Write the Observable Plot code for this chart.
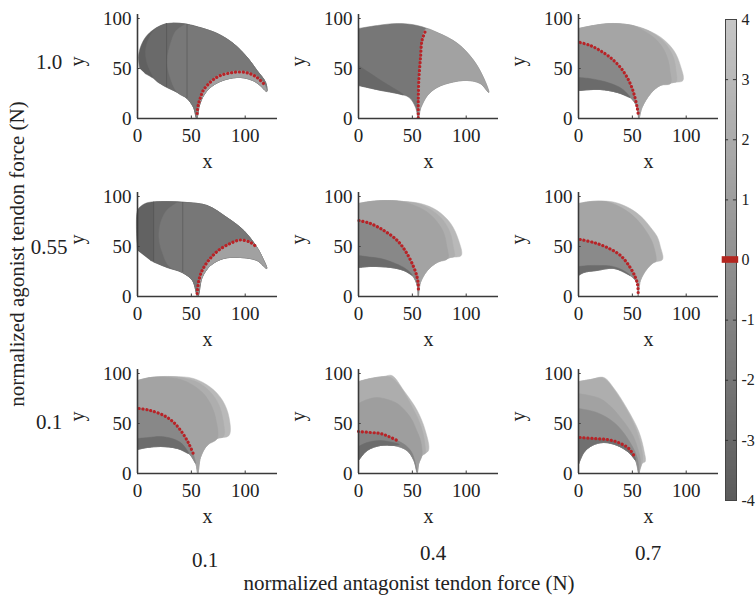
<!DOCTYPE html>
<html><head><meta charset="utf-8">
<script src="https://cdn.jsdelivr.net/npm/d3@7"></script>
<script src="https://cdn.jsdelivr.net/npm/@observablehq/plot@0.6"></script>
<style>
html,body{margin:0;padding:0;background:#fff;}
#chart{position:relative;width:755px;height:600px;overflow:hidden;font-family:"Liberation Serif","Times New Roman",serif;color:#222;}
#chart svg{position:absolute;overflow:visible;background:transparent !important;max-width:none !important;}
.lbl{position:absolute;transform:translate(-50%,-50%);white-space:nowrap;line-height:1;font-size:21px;color:#222;}
</style></head><body><div id="chart"></div>
<script>
// ---------- labels / ticks ----------
const agonistLevels = ["1.0", "0.55", "0.1"];
const antagonistLevels = ["0.1", "0.4", "0.7"];
const xTicks = [0, 50, 100];
const yTicks = [0, 50, 100];
const colorbarTicks = [-4, -3, -2, -1, 0, 1, 2, 3, 4];
const markerLevel = [0];
const yTitle = "normalized agonist tendon force (N)";
const xTitle = "normalized antagonist tendon force (N)";

// ---------- panel agonist 1.0 / antagonist 0.1 ----------
const r1c1_outline = [[2,50],[1,62],[3,72],[8,82],[15,89],[24,94],[33,95.5],[45,94.5],[58,91],[74,85],[89,75],[102,61],[111,48],[119,36],[120,27],[114,33],[108,37.5],[96,41],[82,39],[70,33],[62,24],[57.5,13],[55,0],[52,11],[46,20],[37,26],[24,33],[15,40],[7,45]];
const r1c1_lobe2 = [[27,95],[17,90],[11,81],[7.5,68],[9,55],[13,45],[17,38],[24,33],[37,26],[46,20],[52,11],[55,0],[57.5,13],[62,24],[70,33],[82,39],[96,41],[108,37.5],[114,33],[120,27],[119,36],[111,48],[102,61],[89,75],[74,85],[58,91],[45,94.5],[33,95.5]];
const r1c1_lobe3 = [[45,94.5],[36,88],[31,76],[27.5,58],[30,42],[37,26],[46,20],[52,11],[55,0],[57.5,13],[62,24],[70,33],[82,39],[96,41],[108,37.5],[114,33],[120,27],[119,36],[111,48],[102,61],[89,75],[74,85],[58,91]];
const r1c1_band = [[55.2,3],[56.5,14],[58.5,21.5],[61,28.5],[64.6,34],[70,39.5],[77,44],[86,46.5],[95.6,47.5],[104,46],[111,42],[117,36],[120,27],[114,33],[108,37.5],[96,41],[82,39],[70,33],[62,24],[57.5,13],[55,0]];
const r1c1_red = [[55.4,5],[56.5,14],[58.5,21],[61,28],[64.6,33],[70,38.5],[77,43],[86,45.5],[95.6,46.5],[104,45],[111,41],[117,35]];
const r1c1_edges = [[27,95,31],[46,94,20]];

// ---------- panel agonist 1.0 / antagonist 0.4 ----------
const r1c2_outline = [[0,90],[17.6,93],[36,95],[54.6,93],[73,86],[92,75],[107,58],[116,41],[121,26],[113,35],[101,38],[86,36],[73,31],[64,23],[58,11],[55.5,0],[53,11],[47,21],[36,25],[21,28],[0,33]];
const r1c2_wedge = [[0,53],[21,38],[42,23.5],[36,25],[21,28],[0,33]];
const r1c2_light = [[55.5,0],[55.5,18],[56,38],[57.6,61],[59,78],[62.4,89.5],[73,86],[92,75],[107,58],[116,41],[121,26],[113,35],[101,38],[86,36],[73,31],[64,23],[58,11]];
const r1c2_red = [[55.5,1],[55.5,18],[56,38],[57.6,61],[59,78],[62.4,88]];

// ---------- panel agonist 1.0 / antagonist 0.7 ----------
const r1c3_outline = [[0,90],[14,93],[29.5,95],[45,94],[60,90],[76,81.5],[88.5,68],[94.6,53],[97,38],[88.5,36],[76,33],[67,25],[59,11],[56,0],[54.5,11],[48,21],[36,26],[20,29],[0,28]];
const r1c3_band2 = [[0,90],[14,93],[29.5,95],[45,94],[60,90],[68,86],[77,79],[84,70],[88.5,60],[90.5,48],[91,37],[88.5,36],[76,33],[67,25],[59,11],[56,0],[54.5,11],[48,21],[36,26],[20,29],[0,28]];
const r1c3_band3 = [[0,90],[14,93],[29.5,95],[45,94],[52,92.5],[60,88],[70,81],[78,71],[83,59],[85,47],[85.5,35],[76,33],[67,25],[59,11],[56,0],[54.5,11],[48,21],[36,26],[20,29],[0,28]];
const r1c3_below = [[0,77],[1.6,76],[11,73],[20,68],[29.5,61],[39,51],[46.7,38],[51.4,25],[54.5,12],[55.5,4],[56,0],[54,12],[48,21],[36,26],[20,29],[0,28]];
const r1c3_dark = [[0,41],[10,40],[20,38],[30,35],[40,30],[46,24],[48,21],[36,26],[20,29],[0,28]];
const r1c3_red = [[1.6,76],[11,73],[20,68],[29.5,61],[39,51],[46.7,38],[51.4,25],[54.5,11],[55.4,5]];

// ---------- panel agonist 0.55 / antagonist 0.1 ----------
const r2c1_outline = [[0,46],[0,86],[4,91],[10,94],[27.5,95],[46,94],[64.6,91],[83,79],[98.7,66],[111,49],[116,39],[120,28],[111,36],[95.6,39],[80,38],[67.8,31],[60,19],[56,0],[51,16],[41.5,24],[27.5,29],[12,36]];
const r2c1_lobe2 = [[15,94.5],[27.5,95],[46,94],[64.6,91],[83,79],[98.7,66],[111,49],[116,39],[120,28],[111,36],[95.6,39],[80,38],[67.8,31],[60,19],[56,0],[51,16],[41.5,24],[27.5,29],[15,34.5]];
const r2c1_lobe3 = [[37,94],[27,86],[21,72],[20,58],[23,44],[29.5,30],[41.5,24],[51,16],[56,0],[60,19],[67.8,31],[80,38],[95.6,39],[111,36],[120,28],[116,39],[111,49],[98.7,66],[83,79],[64.6,91],[46,94]];
const r2c1_band = [[55.4,2],[57,16],[60,26],[66,36],[75,46],[86,53],[95.6,57],[105,55],[111,49],[116,39],[120,28],[111,36],[95.6,39],[80,38],[67.8,31],[60,19],[56,0]];
const r2c1_red = [[55.4,3],[57,16],[60,26],[66,36],[75,46],[86,53],[95.6,56.5],[105,54],[111,49]];
const r2c1_edges = [[15,94.5,34.5],[42,94,24]];

// ---------- panel agonist 0.55 / antagonist 0.4 ----------
const r2c2_outline = [[0,93],[11,95],[27,96],[42,95],[57.6,93],[73,86],[85.6,73],[93,56],[95.4,41],[85.6,39],[73,34],[64,26],[57.6,14],[55.5,0],[54.5,11],[50,21],[42,26],[30,29],[11,30],[0,29]];
const r2c2_band2 = [[0,93],[11,95],[27,96],[42,95],[55,93],[67,87],[78,77],[85,64],[88,50],[89,40],[85.6,39],[73,34],[64,26],[57.6,14],[55.5,0],[54.5,11],[50,21],[42,26],[30,29],[11,30],[0,29]];
const r2c2_band3 = [[0,93],[11,95],[27,96],[40,95],[52,91],[63,85],[72,76],[79,64],[82,50],[83,38],[73,34],[64,26],[57.6,14],[55.5,0],[54.5,11],[50,21],[42,26],[30,29],[11,30],[0,29]];
const r2c2_below = [[0,76.5],[0.5,76],[11,73],[23.5,66],[36,56],[45,43],[51.4,29],[54.5,19],[55.5,11],[55.5,0],[54.5,11],[50,21],[42,26],[30,29],[11,30],[0,29]];
const r2c2_dark = [[0,41],[10,39.5],[20.6,38],[32,34],[42,29],[48,24],[50,21],[42,26],[30,29],[11,30],[0,29]];
const r2c2_red = [[0.5,76],[11,73],[23.5,66],[36,56],[45,43],[51.4,29],[54.5,19],[55.5,11],[55.6,4]];

// ---------- panel agonist 0.55 / antagonist 0.7 ----------
const r2c3_outline = [[0,93],[11,95],[29.5,95],[40,92],[51,86],[60,78],[67,69],[73,60],[76,50],[78,37],[70,34],[64,28],[57.6,16],[55.4,0],[54.5,13],[48,21],[33,28],[17,26],[5,24],[0,21]];
const r2c3_band2 = [[0,93],[11,95],[25,95],[36,91],[47,84],[56,75],[63,65],[69,53],[72,35],[70,34],[64,28],[57.6,16],[55.4,0],[54.5,13],[48,21],[33,28],[17,26],[5,24],[0,21]];
const r2c3_below = [[0,57.5],[1.6,57],[14,54],[26.6,49],[39,41],[48,29],[52.9,19],[55,11],[55.4,0],[54.5,13],[48,21],[33,28],[17,26],[5,24],[0,21]];
const r2c3_dark = [[0,30],[10,31],[20,31],[30,30.5],[40,27],[46,23],[48,21],[33,28],[17,26],[5,24],[0,21]];
const r2c3_red = [[1.6,57],[14,54],[26.6,49],[39,41],[48,29],[52.9,19],[55,11],[55.4,4]];

// ---------- panel agonist 0.1 / antagonist 0.1 ----------
const r3c1_outline = [[0,93],[12,96],[33.7,97],[52,95],[68,86],[79,73],[85,56],[85,38],[74,35],[64.6,28],[58.5,16],[56,0],[54,10],[47.6,20],[37,25],[21.6,27],[9,26],[0,24]];
const r3c1_band2 = [[0,93],[12,96],[30,97],[45,95],[58,90],[68,81],[75,70],[79,56],[80,37],[74,35],[64.6,28],[58.5,16],[56,0],[54,10],[47.6,20],[37,25],[21.6,27],[9,26],[0,24]];
const r3c1_band3 = [[0,93],[12,96],[28,96],[40,94],[52,88],[62,79],[69,67],[73,53],[74,35],[64.6,28],[58.5,16],[56,0],[54,10],[47.6,20],[37,25],[21.6,27],[9,26],[0,24]];
const r3c1_below = [[0,65],[1.5,65],[12,63],[24.5,58],[33.7,51],[41.5,41],[47.6,30],[51.7,20],[53,15],[54,10],[47.6,20],[37,25],[21.6,27],[9,26],[0,24]];
const r3c1_dark = [[0,35],[10,36],[21.6,37],[32,35],[40,31],[45,25],[47.6,20],[37,25],[21.6,27],[9,26],[0,24]];
const r3c1_red = [[1.5,65],[12,63],[24.5,58],[33.7,51],[41.5,41],[47.6,30],[51.7,20]];

// ---------- panel agonist 0.1 / antagonist 0.4 ----------
const r3c2_outline = [[0,92],[11,95],[23.5,97],[31,98],[42,83],[54.5,63],[62,43],[65,23],[59,18],[56,10],[54.5,1],[51.4,13],[45,23],[33,28],[20.4,28],[8,23],[0,13]];
const r3c2_band2 = [[0,92],[11,95],[23.5,97],[30,96],[38,88],[45,76],[51,64],[56,53],[60,40],[62,26],[62,20],[59,18],[56,10],[54.5,1],[51.4,13],[45,23],[33,28],[20.4,28],[8,23],[0,13]];
const r3c2_band3 = [[0,70],[8,74],[17.3,76],[27,74],[36,70],[44,62],[50,53],[54,43],[57.6,33],[59,18],[56,10],[54.5,1],[51.4,13],[45,23],[33,28],[20.4,28],[8,23],[0,13]];
const r3c2_below = [[0,42],[11,41],[20.4,40],[28,37],[36,33],[44,28],[50,20],[54.5,1],[51.4,13],[45,23],[33,28],[20.4,28],[8,23],[0,13]];
const r3c2_dark = [[0,27],[8,31],[20,33],[30,31.5],[38,29],[33,28],[20.4,28],[8,23],[0,13]];
const r3c2_red = [[0,42],[11,41],[20.4,40],[28,37],[36,33]];

// ---------- panel agonist 0.1 / antagonist 0.7 ----------
const r3c3_outline = [[0,92],[11,94],[23.5,96],[33,85],[45,65],[56,42],[61,22],[62,12],[59,10],[57,4],[56,0],[53,13],[46.7,21],[36,28],[23.5,31],[12.7,28],[5,21],[0,9]];
const r3c3_band2 = [[0,92],[11,94],[22,95.5],[27,92],[36,79],[45,63],[52,48],[57,32],[59.5,18],[59,10],[57,4],[56,0],[53,13],[46.7,21],[36,28],[23.5,31],[12.7,28],[5,21],[0,9]];
const r3c3_band3 = [[0,80],[10,78],[20,75],[30,67],[39,56],[46,46],[51.4,36],[55,25],[57.6,13],[57,4],[56,0],[53,13],[46.7,21],[36,28],[23.5,31],[12.7,28],[5,21],[0,9]];
const r3c3_mid = [[0,65],[17,61],[33,51],[45,36],[54.5,16],[56,0],[53,13],[46.7,21],[36,28],[23.5,31],[12.7,28],[5,21],[0,9]];
const r3c3_below = [[0,36],[1.5,36],[14,35],[26.6,34],[37,31],[46.7,25],[52.6,16],[53,13],[46.7,21],[36,28],[23.5,31],[12.7,28],[5,21],[0,9]];
const r3c3_red = [[1.5,36],[14,35],[26.6,34],[37,31],[46.7,25],[52.6,16]];

// ---------- panel table (layers: [polygon, shade value on colour bar]) ----------
const panels = [
  {row: 0, col: 0, layers: [[r1c1_outline,-3.6],[r1c1_lobe2,-2.9],[r1c1_lobe3,-1.8],[r1c1_band,1.2]], edges: r1c1_edges, red: r1c1_red},
  {row: 0, col: 1, layers: [[r1c2_outline,-1.9],[r1c2_wedge,-3.0],[r1c2_light,1.3]], edges: [], red: r1c2_red},
  {row: 0, col: 2, layers: [[r1c3_outline,3.1],[r1c3_band2,2.3],[r1c3_band3,1.5],[r1c3_below,-0.6],[r1c3_dark,-2.8]], edges: [], red: r1c3_red},
  {row: 1, col: 0, layers: [[r2c1_outline,-3.5],[r2c1_lobe2,-2.9],[r2c1_lobe3,-1.9],[r2c1_band,1.2]], edges: r2c1_edges, red: r2c1_red},
  {row: 1, col: 1, layers: [[r2c2_outline,3.0],[r2c2_band2,2.2],[r2c2_band3,1.4],[r2c2_below,-0.6],[r2c2_dark,-2.8]], edges: [], red: r2c2_red},
  {row: 1, col: 2, layers: [[r2c3_outline,2.8],[r2c3_band2,1.5],[r2c3_below,-0.5],[r2c3_dark,-2.7]], edges: [], red: r2c3_red},
  {row: 2, col: 0, layers: [[r3c1_outline,3.0],[r3c1_band2,2.2],[r3c1_band3,1.4],[r3c1_below,-0.6],[r3c1_dark,-2.7]], edges: [], red: r3c1_red},
  {row: 2, col: 1, layers: [[r3c2_outline,3.0],[r3c2_band2,2.1],[r3c2_band3,1.0],[r3c2_below,-1.0],[r3c2_dark,-2.7]], edges: [], red: r3c2_red},
  {row: 2, col: 2, layers: [[r3c3_outline,3.0],[r3c3_band2,2.2],[r3c3_band3,1.3],[r3c3_mid,-0.3],[r3c3_below,-2.4]], edges: [], red: r3c3_red}
];

// ---------- layout ----------
const FONT = '"Liberation Serif","Times New Roman",serif';
const colX = [137, 358, 578];
const rowY = [118, 296, 473];
const colorScale = {type: "linear", domain: [-4, 4], range: ["#5b5b5b", "#c6c6c6"]};
const chart = document.getElementById("chart");

function place(node, left, top) {
  node.style.left = left + "px";
  node.style.top = top + "px";
  chart.appendChild(node);
}

for (const p of panels) {
  const shapes = p.layers.flatMap(([pts, shade], k) => pts.map(([x, y]) => ({k, shade, x, y})));
  const red = p.red.map(([x, y]) => ({x, y}));
  const svg = Plot.plot({
    width: 220, height: 174,
    marginLeft: 70, marginRight: 10, marginTop: 10, marginBottom: 60,
    style: {background: "transparent", fontFamily: FONT, fontSize: "19px", color: "#222", overflow: "visible"},
    x: {domain: [0, 130], ticks: xTicks, tickSize: 0, tickPadding: 10, label: null, tickFormat: d => String(d)},
    y: {domain: [0, 104], ticks: yTicks, tickSize: 0, tickPadding: 6, label: null, tickFormat: d => String(d)},
    color: colorScale,
    marks: [
      Plot.line(shapes, {x: "x", y: "y", z: "k", fill: "shade", stroke: "shade", strokeWidth: 0.5, curve: "catmull-rom"}),
      Plot.ruleX(p.edges, {x: d => d[0], y1: d => d[2], y2: d => d[1], stroke: "#4a4a4a", strokeWidth: 0.8, strokeOpacity: 0.6}),
      Plot.line(red, {x: "x", y: "y", stroke: "#b82327", strokeWidth: 3.2, strokeDasharray: "0.1 3.8", strokeLinecap: "round", curve: "catmull-rom"}),
      Plot.ruleY([0], {stroke: "#3a3a3a", strokeWidth: 1.6}),
      Plot.ruleX([0], {stroke: "#3a3a3a", strokeWidth: 1.6}),
      Plot.ruleX(xTicks.slice(1), {y1: () => 0, y2: () => 2.5, stroke: "#3a3a3a"}),
      Plot.ruleY(yTicks.slice(1), {x1: () => 0, x2: () => 2.5, stroke: "#3a3a3a"}),
      Plot.text(["x"], {text: d => d, frameAnchor: "bottom", dy: 49, fontSize: 20, fill: "#222"}),
      Plot.text(["y"], {text: d => d, frameAnchor: "left", dx: -60, rotate: -90, fontSize: 20, fill: "#222"})
    ]
  });
  place(svg, colX[p.col] - 70, rowY[p.row] - 114);
}

// ---------- colour bar ----------
const bar = Plot.plot({
  width: 55, height: 520,
  marginLeft: 25, marginRight: 19, marginTop: 19, marginBottom: 20,
  style: {background: "transparent", fontFamily: FONT, fontSize: "16px", color: "#222", overflow: "visible"},
  x: {domain: [0, 1], axis: null},
  y: {domain: [-4, 4], ticks: colorbarTicks, tickFormat: d => String(d), tickSize: 0, tickPadding: 5, label: null, axis: "right"},
  color: colorScale,
  marks: [
    Plot.raster({x1: 0, x2: 1, y1: -4, y2: 4, width: 1, height: 160, fill: (x, y) => y}),
    Plot.frame({stroke: "#444", strokeWidth: 1}),
    Plot.ruleY(colorbarTicks.slice(1, -1), {x1: () => 0, x2: () => 0.28, stroke: "#333"}),
    Plot.ruleY(colorbarTicks.slice(1, -1), {x1: () => 0.72, x2: () => 1, stroke: "#333"}),
    Plot.rect(markerLevel, {x1: () => -0.3, x2: () => 1.2, y1: d => d - 0.055, y2: d => d + 0.055, fill: "#b3261f"})
  ]
});
place(bar, 700, 0);

// ---------- text labels ----------
function label(text, x, y, rotate) {
  const d = document.createElement("div");
  d.className = "lbl";
  d.textContent = text;
  if (rotate) d.style.transform = "translate(-50%,-50%) rotate(-90deg)";
  place(d, x, y);
}
const rowLabelY = [62, 247, 422];
agonistLevels.forEach((t, i) => label(t, 49, rowLabelY[i]));
const colLabelX = [205, 433, 648];
const colLabelY = [560, 553, 553];
antagonistLevels.forEach((t, i) => label(t, colLabelX[i], colLabelY[i]));
label(yTitle, 17, 254, true);
label(xTitle, 409, 583);
</script></body></html>
